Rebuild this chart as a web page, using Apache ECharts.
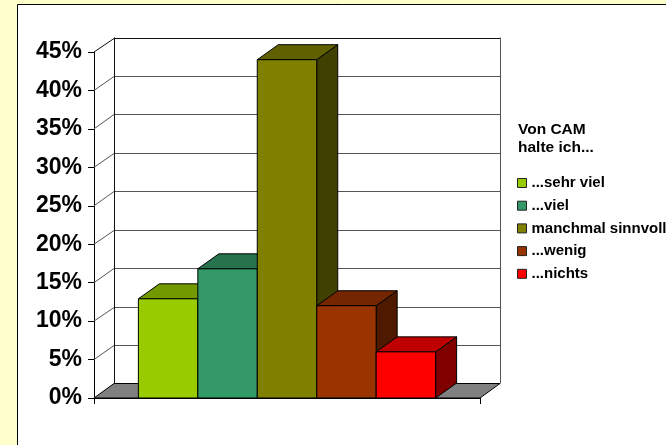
<!DOCTYPE html>
<html><head><meta charset="utf-8">
<script src="https://cdn.jsdelivr.net/npm/echarts@6/dist/echarts.min.js"></script>
<style>html,body{margin:0;padding:0;background:#FFFFCC}#c{width:666px;height:445px}</style>
</head><body><div id="c"></div>
<script>
const categories = ['...sehr viel', '...viel', 'manchmal sinnvoll', '...wenig', '...nichts'];
const values = [12.9, 16.8, 44.0, 12.0, 6.0];
const yTicks = [0, 5, 10, 15, 20, 25, 30, 35, 40, 45];
const colors = ['#99CC00', '#339966', '#808000', '#993300', '#FF0000'];
const topColors = ['#739900', '#26734D', '#606000', '#732600', '#BF0000'];
const sideColors = ['#4D6600', '#1A4D33', '#404000', '#4D1A00', '#800000'];
const legendTitle = 'Von CAM\nhalte ich...';

const DX = 20, DY = -14.5;   // wall depth
const BDX = 21, BDY = -15;   // bar depth
const GAP = 0.23;
const FONT = '"Liberation Sans", Arial, sans-serif';

function px(v) { return Math.round(v) + 0.5; }

function wallRender(params, api) {
  const children = [];
  const p0 = api.coord([0, 0]);
  const band = api.size([1, 0])[0];
  const xl = p0[0] - band / 2, xr = p0[0] + band / 2;
  const y0 = p0[1];
  const yTop = api.coord([0, yTicks[yTicks.length - 1]])[1];
  children.push({type: 'polygon', shape: {points: [[xl, y0], [xr, y0], [xr + DX, y0 + DY], [xl + DX, y0 + DY]]},
    style: {fill: '#808080', stroke: '#000', lineWidth: 1}});
  yTicks.forEach(function (t) {
    if (t === 0) return;
    const y = api.coord([0, t])[1];
    const last = t === yTicks[yTicks.length - 1];
    children.push({type: 'polyline', shape: {points: [[xl, y], [xl + DX, px(y + DY)], [xr + DX, px(y + DY)]]},
      style: {fill: null, stroke: last ? '#111' : '#555', lineWidth: 1}});
  });
  children.push({type: 'line', shape: {x1: px(xl + DX), y1: yTop + DY, x2: px(xl + DX), y2: y0 + DY}, style: {stroke: '#111', lineWidth: 1}});
  children.push({type: 'line', shape: {x1: px(xr + DX), y1: yTop + DY, x2: px(xr + DX), y2: y0 + DY}, style: {stroke: '#555', lineWidth: 1}});
  return {type: 'group', children: children};
}

function barRender(params, api) {
  const i = api.value(2);
  const p0 = api.coord([api.value(0), 0]);
  const band = api.size([1, 0])[0];
  const inner = band * (1 - GAP);
  const bw = inner / categories.length;
  const x0 = p0[0] - inner / 2 + i * bw, x1 = x0 + bw;
  const yb = p0[1], yt = api.coord([api.value(0), api.value(1)])[1];
  return {type: 'group', children: [
    {type: 'polygon', shape: {points: [[x1, yt], [x1 + BDX, yt + BDY], [x1 + BDX, yb + BDY], [x1, yb]]},
      style: {fill: sideColors[i], stroke: '#000', lineWidth: 1}},
    {type: 'polygon', shape: {points: [[x0, yt], [x0 + BDX, yt + BDY], [x1 + BDX, yt + BDY], [x1, yt]]},
      style: {fill: topColors[i], stroke: '#000', lineWidth: 1}},
    {type: 'rect', shape: {x: x0, y: yt, width: bw, height: yb - yt},
      style: {fill: colors[i], stroke: '#000', lineWidth: 1}}
  ]};
}

const series = [{
  type: 'custom', name: 'wall', renderItem: wallRender, data: [[0, 0]], clip: false, z: 1, silent: true
}];
categories.forEach(function (name, i) {
  series.push({type: 'custom', name: name, renderItem: barRender, data: [[0, values[i], i]],
    itemStyle: {color: colors[i]}, clip: false, z: 3 + i});
});

const chart = echarts.init(document.getElementById('c'), null, {renderer: 'canvas'});
chart.setOption({
  backgroundColor: '#FFFFCC',
  animation: false,
  graphic: [{type: 'rect', z: -10, shape: {x: 17.5, y: 4.5, width: 700, height: 500},
    style: {fill: '#fff', stroke: '#000', lineWidth: 1}}],
  title: {text: legendTitle, left: 513, top: 115.5,
    textStyle: {fontFamily: FONT, fontWeight: 'bold', fontSize: 15.5, lineHeight: 18, color: '#000'}},
  legend: {data: categories, orient: 'vertical', left: 512, top: 170.5, icon: 'rect',
    itemWidth: 9, itemHeight: 9, itemGap: 7.7,
    itemStyle: {borderColor: '#222', borderWidth: 1},
    textStyle: {fontFamily: FONT, fontWeight: 'bold', fontSize: 15, lineHeight: 14, color: '#000', padding: [0, 0, 0, 0]}},
  grid: {left: 94, right: 186, top: 52, bottom: 47},
  xAxis: {type: 'category', data: [''],
    axisLine: {lineStyle: {color: '#000', width: 1}},
    axisTick: {show: true, length: 6, interval: 0, lineStyle: {color: '#000'}},
    axisLabel: {show: false}, splitLine: {show: false}},
  yAxis: {type: 'value', min: 0, max: 45, interval: 5,
    axisLine: {show: true, lineStyle: {color: '#000', width: 1}},
    axisTick: {show: true, length: 6, lineStyle: {color: '#000'}},
    axisLabel: {formatter: '{value}%', margin: 12, fontFamily: FONT, fontWeight: 'bold', fontSize: 23, color: '#000'},
    splitLine: {show: false}},
  series: series
});
</script></body></html>
